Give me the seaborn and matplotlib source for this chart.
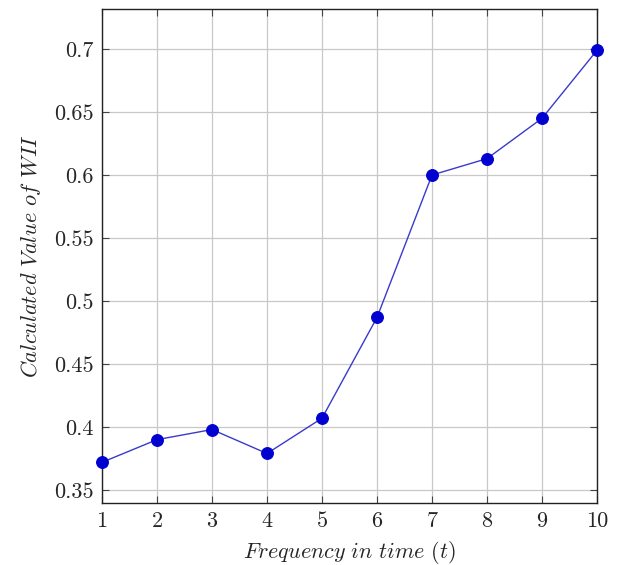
import pandas as pd
import seaborn as sns
import matplotlib.pyplot as plt

# Values
freq = [1, 2, 3, 4, 5, 6, 7, 8, 9, 10]
wii = [0.372, 0.390, 0.398, 0.379, 0.407, 0.487, 0.600, 0.613, 0.645, 0.699]
y_ticks = [0.35, 0.4, 0.45, 0.5, 0.55, 0.6, 0.65, 0.7]
y_labels = ['0.35', '0.4', '0.45', '0.5', '0.55', '0.6', '0.65', '0.7']

df = pd.DataFrame({'t': freq, 'wii': wii})

sns.set_style('whitegrid')
plt.rcParams['font.family'] = ['cmr10', 'DejaVu Serif']
plt.rcParams['mathtext.fontset'] = 'cm'
plt.rcParams['axes.formatter.use_mathtext'] = True

fig = plt.figure(figsize=(6.19, 5.65), dpi=100)
ax = fig.add_axes([0.1648, 0.1097, 0.7997, 0.8743])

sns.lineplot(data=df, x='t', y='wii', ax=ax, color='#3a3acc', linewidth=1.0,
             marker='o', markersize=8.5, markerfacecolor='#0000d0',
             markeredgecolor='#0000d0', clip_on=False, zorder=5)

ax.set_xlim(1, 10)
ax.set_ylim(0.3397, 0.7317)
ax.set_xticks(freq)
ax.set_xticklabels([str(v) for v in freq])
ax.set_yticks(y_ticks)
ax.set_yticklabels(y_labels)

ax.grid(True, color='#c8c8c8', linewidth=0.9)
for s in ax.spines.values():
    s.set_edgecolor('#222222')
    s.set_linewidth(1.0)
ax.tick_params(direction='in', length=5, width=0.8, color='#444444',
               labelsize=16, top=True, right=True, bottom=True, left=True, pad=6)

ax.set_xlabel(r'$\mathit{Frequency\ in\ time\ (t)}$', fontsize=16, labelpad=6)
ax.set_ylabel(r'$\mathit{Calculated\ Value\ of\ WII}$', fontsize=16, labelpad=8)

fig.savefig('out.png', dpi=100)
